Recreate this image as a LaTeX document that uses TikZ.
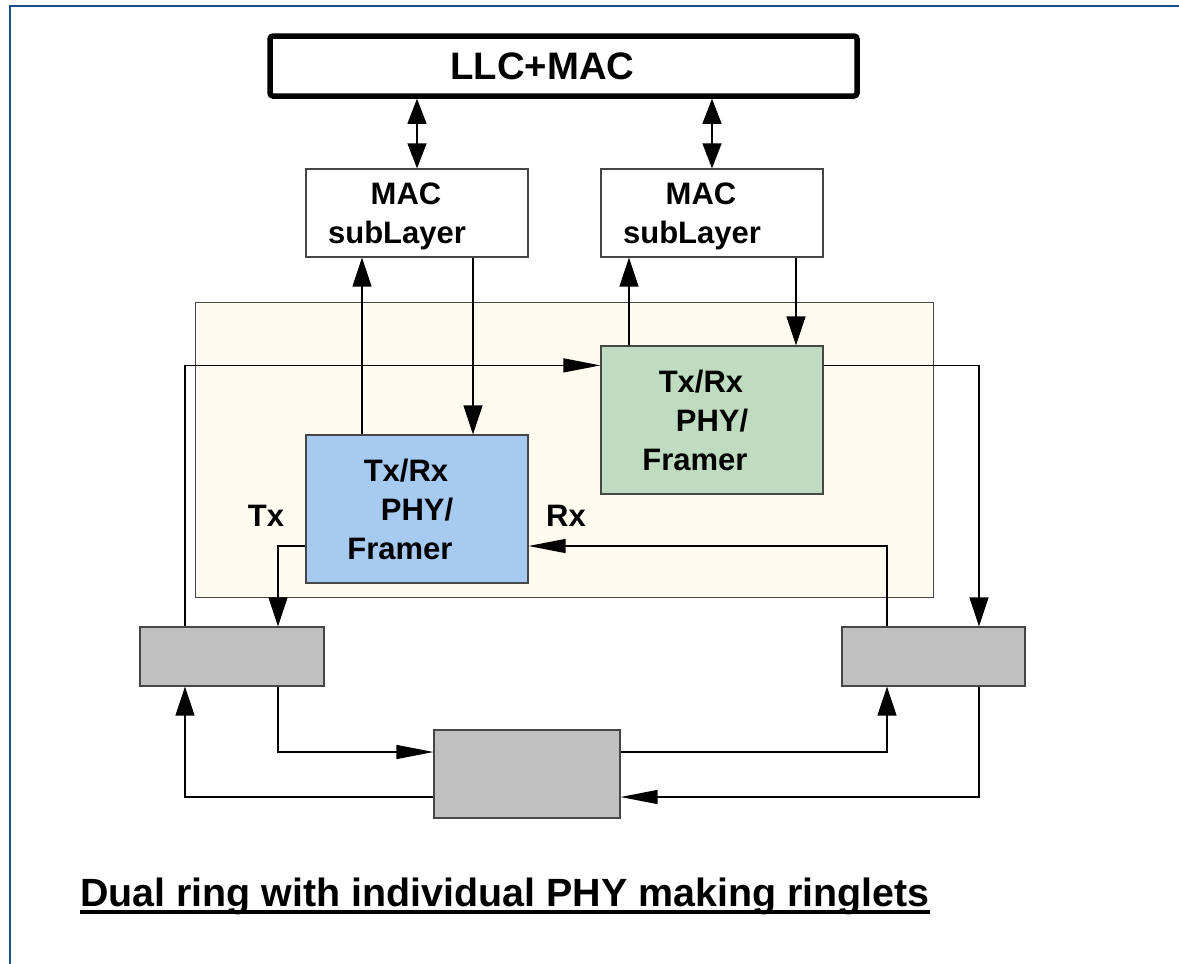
\documentclass[tikz,border=0pt]{standalone}
\usepackage{fontspec}
\setmainfont{Liberation Sans}
\usetikzlibrary{arrows.meta,positioning}
\definecolor{frameblue}{RGB}{28,78,138}
\definecolor{phyblue}{RGB}{166,202,240}
\definecolor{phygreen}{RGB}{192,220,192}
\definecolor{shelf}{RGB}{255,251,240}
\definecolor{ringgray}{RGB}{192,192,192}
\definecolor{edgegray}{RGB}{70,70,70}
\newcommand{\thickunder}[1]{\setbox0\hbox{#1}\rlap{\vrule height -4pt depth 8pt width \wd0}\box0}
\newcommand{\padr}[2]{#2\hspace*{#1pt}}

\begin{document}
\begin{tikzpicture}[x=1pt, y=-1pt,
    box/.style={draw=edgegray, line width=1.2pt, rectangle, inner sep=0pt, align=center,
        font=\fontsize{31}{39}\selectfont\bfseries},
    macbox/.style={box, minimum width=222pt, minimum height=88pt, text depth=-11pt},
    phybox/.style={box, minimum width=222pt, minimum height=148pt},
    ringbox/.style={box, fill=ringgray},
    varrow/.style={-{Triangle[length=29pt,width=19pt]}, line width=1.3pt},
    harrow/.style={-{Triangle[length=37pt,width=14pt]}, line width=1.3pt},
    dblarrow/.style={{Triangle[length=25pt,width=19pt]}-{Triangle[length=25pt,width=19pt]}, line width=1.3pt}]
    \useasboundingbox (0,0) rectangle (1179,964);
    \draw[frameblue, line width=2pt] (10,964) -- (10,6) -- (1179,6);
    \node (shelf) [draw=edgegray, line width=1pt, fill=shelf, rectangle, minimum width=738pt, minimum height=295pt] at (564,449.5) {};
    \node (llc) [draw, line width=5.5pt, rounded corners=3pt, inner sep=0pt, minimum width=587pt, minimum height=60pt,
        font=\fontsize{38.3}{44}\selectfont\bfseries] at (563.5,66) {\padr{42}{LLC+MAC}};
    \node (macL) [macbox] at (417,213) {\padr{22}{MAC}\\\padr{40}{subLayer}};
    \node (macR) [macbox] at (712,213) {\padr{22}{MAC}\\\padr{40}{subLayer}};
    \node (phyG) [phybox, fill=phygreen] at (712,420) {\padr{22}{Tx/Rx}\\\padr{31}{PHY/}\\\padr{34}{Framer}};
    \node (phyB) [phybox, fill=phyblue] at (417,509) {\padr{22}{Tx/Rx}\\\padr{31}{PHY/}\\\padr{34}{Framer}};
    \node (grayL) [ringbox, minimum width=184pt, minimum height=59pt] at (232,656.5) {};
    \node (grayR) [ringbox, minimum width=183pt, minimum height=59pt] at (933.5,656.5) {};
    \node (grayB) [ringbox, minimum width=186pt, minimum height=88pt] at (527,774) {};
    \node (tx) [font=\fontsize{31}{39}\selectfont\bfseries] at (266,516) {Tx};
    \node (rx) [font=\fontsize{31}{39}\selectfont\bfseries] at (566,516) {Rx};
    \node (title) [anchor=base west, inner sep=0pt, font=\fontsize{39.4}{46}\selectfont\bfseries] at (80,906)
        {\thickunder{Dual ring with individual PHY making ringlets}};

    \draw[dblarrow] (llc.south -| macL.north) -- (macL.north);
    \draw[dblarrow] (llc.south -| macR.north) -- (macR.north);
    \draw[varrow] ([xshift=-55pt]phyB.north) -- ([xshift=-55pt]macL.south);
    \draw[varrow] ([xshift=56pt]macL.south) -- ([xshift=56pt]phyB.north);
    \draw[varrow] ([xshift=-83pt]phyG.north) -- ([xshift=-83pt]macR.south);
    \draw[varrow] ([xshift=84pt]macR.south) -- ([xshift=84pt]phyG.north);
    \draw[harrow] ([xshift=-47pt]grayL.north) |- ([yshift=-20pt]phyG.north west);
    \draw[varrow] ([yshift=-20pt]phyG.north east) -| ([xshift=45.5pt]grayR.north);
    \draw[varrow] ([yshift=-37pt]phyB.west) -| ([xshift=46pt]grayL.north);
    \draw[harrow] ([xshift=-46.5pt]grayR.north) |- ([yshift=-37pt]phyB.east);
    \draw[harrow] ([xshift=46pt]grayL.south) |- ([yshift=22pt]grayB.west);
    \draw[varrow] ([yshift=-23pt]grayB.west) -| ([xshift=-47pt]grayL.south);
    \draw[varrow] ([yshift=22pt]grayB.east) -| ([xshift=-46.5pt]grayR.south);
    \draw[harrow] ([xshift=45.5pt]grayR.south) |- ([yshift=-23pt]grayB.east);
\end{tikzpicture}
\end{document}
